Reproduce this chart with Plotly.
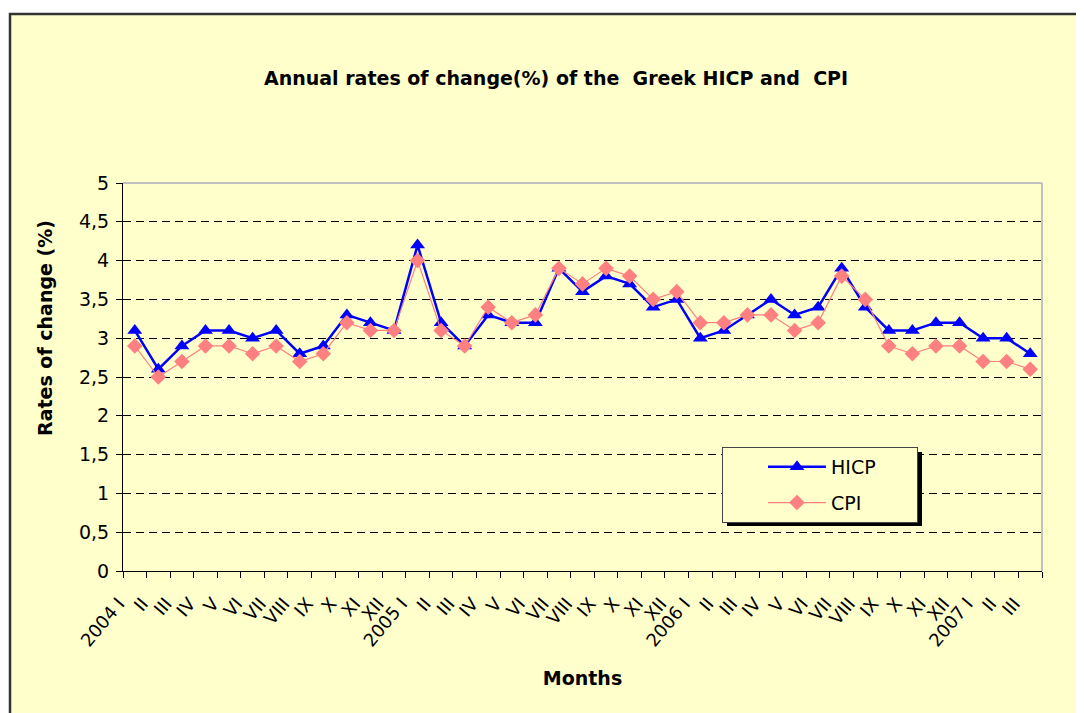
import plotly.graph_objects as go

months = ["I", "II", "III", "IV", "V", "VI", "VII", "VIII", "IX", "X", "XI", "XII"]
categories = ([f"2004 {m}" if m == "I" else m for m in months]
              + [f"2005 {m}" if m == "I" else m for m in months]
              + [f"2006 {m}" if m == "I" else m for m in months]
              + ["2007 I", "II", "III"])
cat_ids = [f"c{i}" for i in range(len(categories))]

hicp = [3.1, 2.6, 2.9, 3.1, 3.1, 3.0, 3.1, 2.8, 2.9, 3.3, 3.2, 3.1,
        4.2, 3.2, 2.9, 3.3, 3.2, 3.2, 3.9, 3.6, 3.8, 3.7, 3.4, 3.5,
        3.0, 3.1, 3.3, 3.5, 3.3, 3.4, 3.9, 3.4, 3.1, 3.1, 3.2, 3.2,
        3.0, 3.0, 2.8]
cpi = [2.9, 2.5, 2.7, 2.9, 2.9, 2.8, 2.9, 2.7, 2.8, 3.2, 3.1, 3.1,
       4.0, 3.1, 2.9, 3.4, 3.2, 3.3, 3.9, 3.7, 3.9, 3.8, 3.5, 3.6,
       3.2, 3.2, 3.3, 3.3, 3.1, 3.2, 3.8, 3.5, 2.9, 2.8, 2.9, 2.9,
       2.7, 2.7, 2.6]

y_tickvals = [0, 0.5, 1, 1.5, 2, 2.5, 3, 3.5, 4, 4.5, 5]
y_ticktext = ["0", "0,5", "1", "1,5", "2", "2,5", "3", "3,5", "4", "4,5", "5"]

FONT = "DejaVu Sans, Arial, sans-serif"
OFF = 8  # page body margin
W, H = 1084 - OFF, 713 - OFF
# plot area in page pixels: x 123..1042, y 183..571
L, R, T, B = 123 - OFF, 1084 - 1042, 183 - OFF, 713 - 571
pw, ph = W - L - R, H - T - B


def px(x):  # page pixel -> paper x
    return (x - OFF - L) / pw


def py(y):  # page pixel -> paper y
    return (H - B - (y - OFF)) / ph


NB = "\u00a0"

fig = go.Figure()
fig.add_trace(go.Scatter(
    x=cat_ids, y=hicp, name="HICP" + NB * 6, mode="lines+markers", legendgroup="a",
    line=dict(color="#0000FF", width=2.5),
    marker=dict(symbol="triangle-up", size=13, color="#0000FF"),
))
fig.add_trace(go.Scatter(
    x=cat_ids, y=cpi, name="CPI" + NB * 6, mode="lines+markers", legendgroup="b",
    line=dict(color="#FF8080", width=1.2),
    marker=dict(symbol="diamond", size=12, color="#FF8080"),
))

fig.update_layout(
    width=W, height=H,
    margin=dict(l=L, r=R, t=T, b=B),
    paper_bgcolor="white",
    plot_bgcolor="white",
    font=dict(family=FONT, color="black", size=18),
    showlegend=True,
    legend=dict(
        x=px(722), y=py(447), xanchor="left", yanchor="top",
        bgcolor="#FFFFCC", bordercolor="#444444", borderwidth=1,
        font=dict(size=19, family=FONT),
        indentation=40, itemwidth=58, tracegroupgap=8,
    ),
    xaxis=dict(
        type="category", range=[-0.5, len(cat_ids) - 0.5],
        tickmode="array", tickvals=cat_ids, ticktext=categories,
        tickangle=-50, tickson="boundaries", ticks="outside", ticklen=6,
        ticklabelstandoff=14, ticklabelshift=-16,
        tickcolor="black", showline=True, linecolor="black", linewidth=1,
        showgrid=False, tickfont=dict(size=18),
        title=dict(text="<b>Months</b>", font=dict(size=19), standoff=22),
    ),
    yaxis=dict(
        range=[0, 5], tickmode="array", tickvals=y_tickvals, ticktext=y_ticktext,
        ticks="outside", ticklen=6, tickcolor="black", ticklabelstandoff=3,
        showline=True, linecolor="black", linewidth=1,
        showgrid=True, gridcolor="black", griddash="8px,5px", gridwidth=1,
        zeroline=False, tickfont=dict(size=19),
    ),
    shapes=[
        dict(type="rect", xref="paper", yref="paper", layer="below",
             x0=px(10), x1=px(1100), y0=py(730), y1=py(14),
             fillcolor="#FFFFCC", line=dict(color="#333333", width=2.5)),
        dict(type="line", xref="paper", yref="paper", layer="above",
             x0=0, x1=1, y0=1, y1=1, line=dict(color="#C0C0C0", width=2)),
        dict(type="line", xref="paper", yref="paper", layer="above",
             x0=1, x1=1, y0=0, y1=1, line=dict(color="#C0C0C0", width=2)),
        dict(type="rect", xref="paper", yref="paper", layer="above",
             x0=px(727), x1=px(922), y0=py(526), y1=py(452),
             fillcolor="black", line=dict(width=0)),
    ],
    annotations=[
        dict(text="<b>Annual rates of change(%) of the  Greek HICP and  CPI</b>",
             xref="paper", yref="paper", x=px(556), y=py(78),
             xanchor="center", yanchor="middle", showarrow=False,
             font=dict(size=19, family=FONT)),
        dict(text="<b>Rates of change (%)</b>", textangle=-90,
             xref="paper", yref="paper", x=px(45), y=py(328),
             xanchor="center", yanchor="middle", showarrow=False,
             font=dict(size=19, family=FONT)),
    ],
)

fig.write_html("out.html")
